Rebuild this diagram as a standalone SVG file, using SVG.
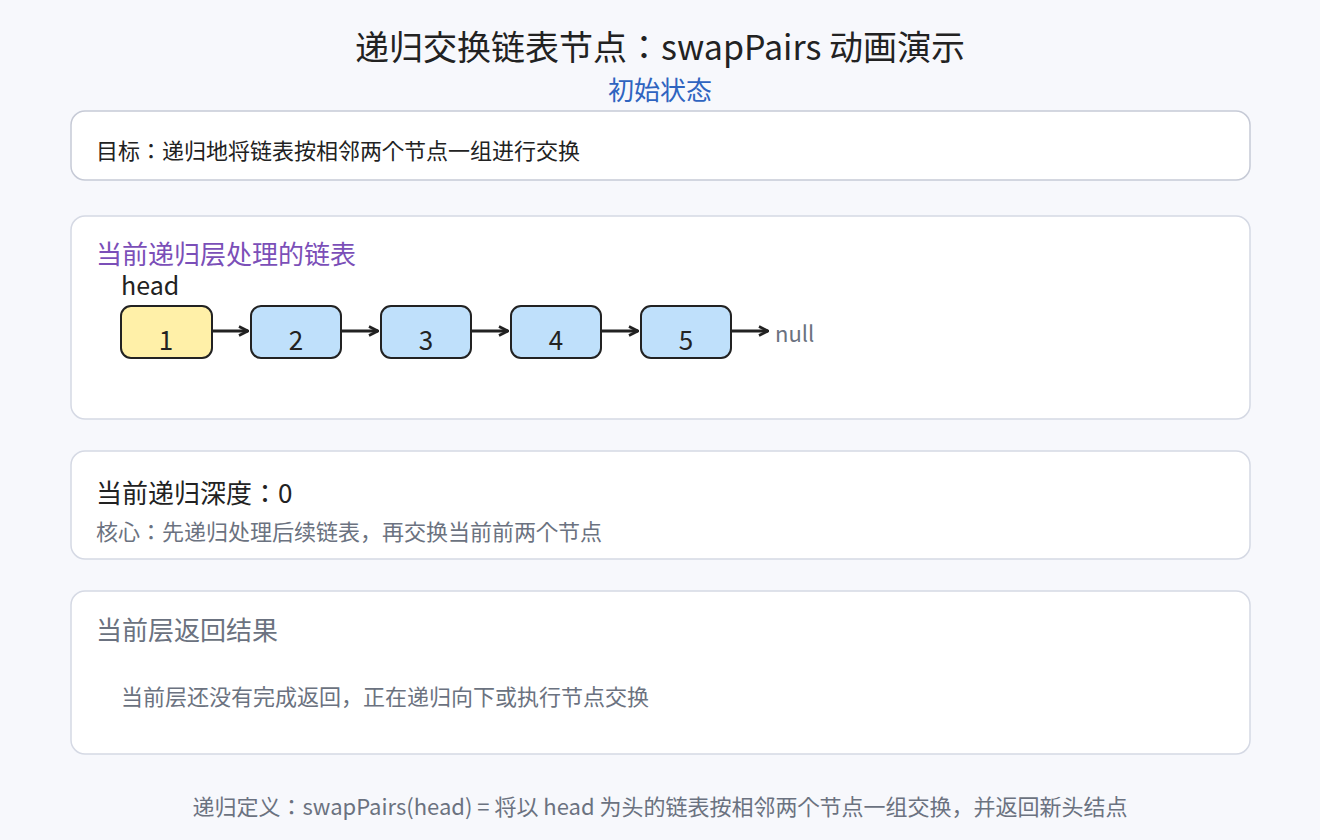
<svg xmlns="http://www.w3.org/2000/svg" width="1320" height="840" viewBox="0 0 1320 840">
<style>
text{font-family:"Noto Sans CJK JP","Noto Sans",sans-serif;}
.card{fill:#ffffff;stroke:#d5d9e4;stroke-width:1.5;}
.node{stroke:#222222;stroke-width:2;}
.nlabel{font-size:26px;fill:#222;text-anchor:middle;}
.gray{fill:#6b7280;}
.conn{stroke:#222;stroke-width:3;fill:none;}
</style>
<defs>
<marker id="arr" viewBox="0 0 12 12" refX="11" refY="6" markerWidth="12" markerHeight="12" markerUnits="userSpaceOnUse" orient="auto">
<path d="M2,1.5 L11,6 L2,10.5" fill="none" stroke="#222" stroke-width="2.6"/>
</marker>
</defs>
<rect width="1320" height="840" fill="#f7f8fc"/>
<g id="title">
<text x="660" y="60" font-size="34" text-anchor="middle" fill="#222">递归交换链表节点：swapPairs 动画演示</text>
<text x="660" y="100" font-size="26" text-anchor="middle" fill="#2f64c0">初始状态</text>
</g>
<g id="goal">
<rect class="card" x="71" y="111" width="1179" height="69" rx="14" style="stroke:#c6cad6"/>
<text x="96" y="159" font-size="22" fill="#222">目标：递归地将链表按相邻两个节点一组进行交换</text>
</g>
<g id="list-card">
<rect class="card" x="71" y="216" width="1179" height="203" rx="14"/>
<text x="96" y="264" font-size="26" fill="#7b4fb8">当前递归层处理的链表</text>
<text x="121" y="295" font-size="25" fill="#222">head</text>
</g>
<g id="node1"><rect class="node" x="121" y="306" width="91" height="52" rx="10" fill="#fff0a8"/><text class="nlabel" x="166" y="350">1</text></g>
<g id="node2"><rect class="node" x="251" y="306" width="90" height="52" rx="10" fill="#bfe0fb"/><text class="nlabel" x="296" y="350">2</text></g>
<g id="node3"><rect class="node" x="381" y="306" width="90" height="52" rx="10" fill="#bfe0fb"/><text class="nlabel" x="426" y="350">3</text></g>
<g id="node4"><rect class="node" x="511" y="306" width="90" height="52" rx="10" fill="#bfe0fb"/><text class="nlabel" x="556" y="350">4</text></g>
<g id="node5"><rect class="node" x="641" y="306" width="90" height="52" rx="10" fill="#bfe0fb"/><text class="nlabel" x="686" y="350">5</text></g>
<g id="null"><text x="775" y="342" font-size="22" class="gray">null</text></g>
<g id="connectors">
<line class="conn" x1="212" y1="331" x2="248" y2="331" marker-end="url(#arr)"/>
<line class="conn" x1="341" y1="331" x2="378" y2="331" marker-end="url(#arr)"/>
<line class="conn" x1="471" y1="331" x2="508" y2="331" marker-end="url(#arr)"/>
<line class="conn" x1="601" y1="331" x2="638" y2="331" marker-end="url(#arr)"/>
<line class="conn" x1="731" y1="331" x2="768" y2="331" marker-end="url(#arr)"/>
</g>
<g id="depth">
<rect class="card" x="71" y="451" width="1179" height="108" rx="14"/>
<text x="96" y="503" font-size="26" fill="#222">当前递归深度：0</text>
<text x="96" y="540" font-size="22" class="gray">核心：先递归处理后续链表，再交换当前前两个节点</text>
</g>
<g id="result">
<rect class="card" x="71" y="591" width="1179" height="163" rx="14"/>
<text x="96" y="640" font-size="26" class="gray">当前层返回结果</text>
<text x="121" y="705" font-size="22" class="gray">当前层还没有完成返回，正在递归向下或执行节点交换</text>
</g>
<g id="footer">
<text x="660" y="815" font-size="22" text-anchor="middle" class="gray">递归定义：swapPairs(head) = 将以 head 为头的链表按相邻两个节点一组交换，并返回新头结点</text>
</g>
</svg>
